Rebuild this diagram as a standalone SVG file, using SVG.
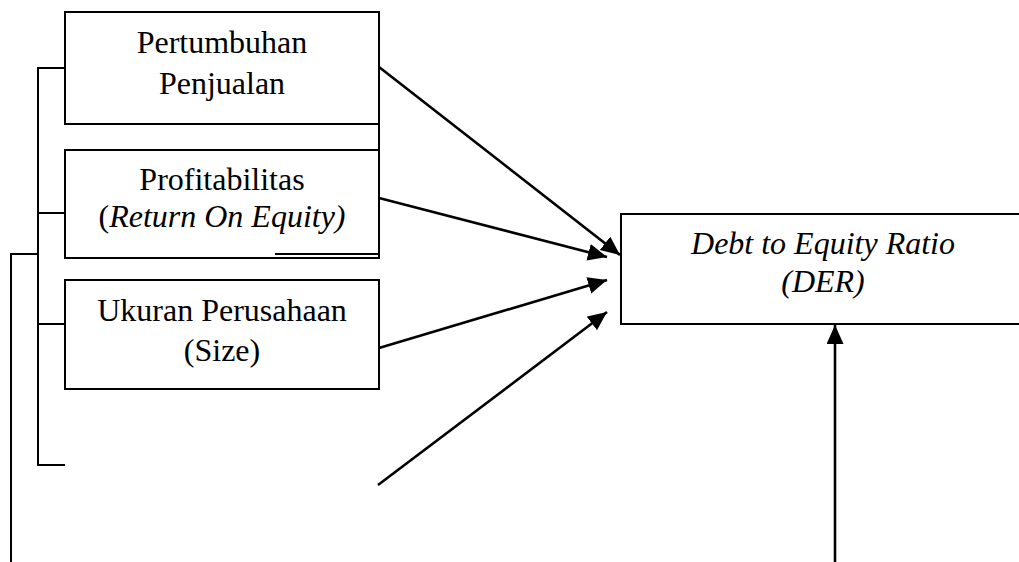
<svg xmlns="http://www.w3.org/2000/svg" width="1019" height="562" viewBox="0 0 1019 562">
<style>
.box{fill:#fff;stroke:#000;stroke-width:2}
.ln{fill:none;stroke:#000;stroke-width:2}
.ar{fill:none;stroke:#000;stroke-width:2.6}
.t{font-family:"Liberation Serif","Times New Roman",serif;font-size:32px;fill:#000;text-anchor:middle}
.i{font-style:italic}
</style>
<defs>
<marker id="ah" markerUnits="userSpaceOnUse" markerWidth="22" markerHeight="18" refX="19" refY="8.5" orient="auto">
<path d="M0,0 L19,8.5 L0,17 Z" fill="#000"/>
</marker>
</defs>
<g id="connectors">
<path class="ln" d="M379,124 V150"/>
<path class="ln" d="M65,68 H38 V465 H65"/>
<path class="ln" d="M38,213 H65"/>
<path class="ln" d="M38,324 H65"/>
<path class="ln" d="M38,254 H11 V562"/>
<line class="ar" x1="379" y1="67" x2="620" y2="255" marker-end="url(#ah)"/>
<line class="ar" x1="379" y1="198" x2="607" y2="257" marker-end="url(#ah)"/>
<line class="ar" x1="379" y1="348" x2="607" y2="280" marker-end="url(#ah)"/>
<line class="ar" x1="378" y1="485" x2="607" y2="312" marker-end="url(#ah)"/>
<line class="ar" x1="835" y1="562" x2="835" y2="325" marker-end="url(#ah)"/>
</g>
<g id="node-pertumbuhan">
<rect class="box" x="65" y="12" width="314" height="112"/>
<text class="t" x="222" y="53">Pertumbuhan</text>
<text class="t" x="222" y="94">Penjualan</text>
</g>
<g id="node-profitabilitas">
<rect class="box" x="65" y="150" width="314" height="108"/>
<line class="ln" x1="275" y1="254" x2="379" y2="254"/>
<text class="t" x="222" y="190">Profitabilitas</text>
<text class="t" x="222" y="227">(<tspan class="i">Return On Equity)</tspan></text>
</g>
<g id="node-ukuran">
<rect class="box" x="65" y="280" width="314" height="109"/>
<text class="t" x="222" y="321">Ukuran Perusahaan</text>
<text class="t" x="222" y="361">(Size)</text>
</g>
<g id="node-der">
<rect class="box" x="621" y="214" width="404" height="110"/>
<text class="t i" x="823" y="254">Debt to Equity Ratio</text>
<text class="t i" x="823" y="292">(DER)</text>
</g>
</svg>
